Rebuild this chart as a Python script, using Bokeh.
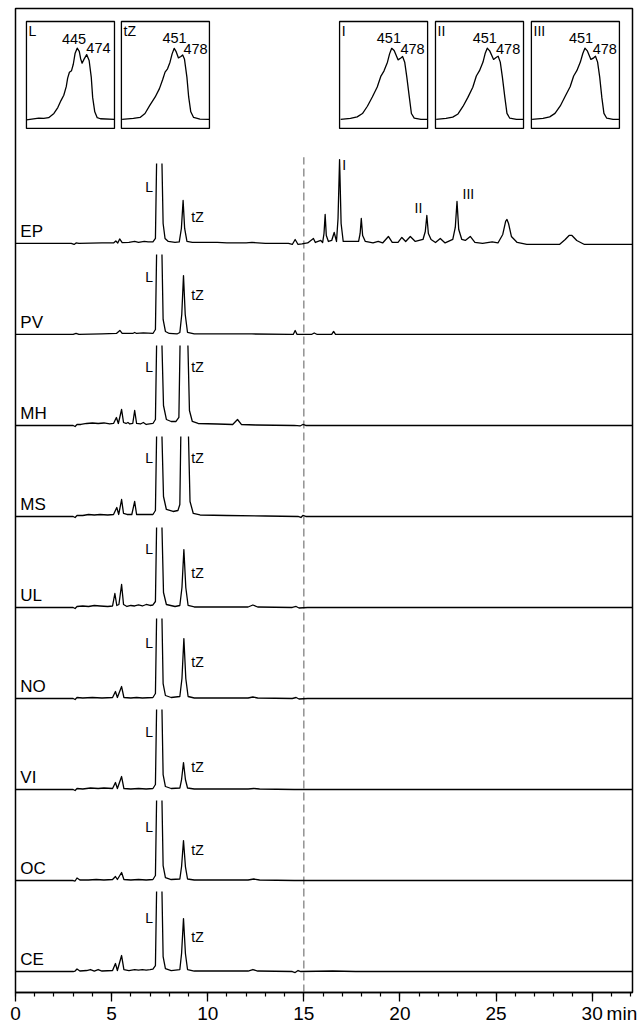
import math
from bokeh.plotting import figure
from bokeh.models import Range1d, SingleIntervalTicker, FixedTicker, LinearAxis
from bokeh.core.properties import value
from bokeh.embed import file_html
from bokeh.resources import INLINE

NAN = float("nan")

# ---------------- DATA ----------------
samples = ["EP", "PV", "MH", "MS", "UL", "NO", "VI", "OC", "CE"]

# chromatogram vertices (time in min, signal in arbitrary units); NaN = off-scale apex
EP = [(0, 0), (2.9, 0), (3.05, -1), (3.15, 0.5), (3.3, 0), (4.5, 0.5), (5.1, 0.5), (5.22, 2.5), (5.32, 0.5),
      (5.42, 4.5), (5.55, 0.8), (5.9, 1), (6.2, 2), (6.4, 1), (6.7, 2), (6.9, 1.5), (7.15, 1.5), (7.28, 5),
      (7.34, 80), (7.5, NAN), (7.62, 80), (7.68, 20), (7.78, 5), (7.95, 2), (8.3, 1), (8.52, 1.5), (8.63, 15),
      (8.72, 43), (8.8, 15), (8.92, 2), (9.2, 1), (10.5, 1), (11.0, 0.5), (12.0, 0.5), (12.3, 1), (13, 0),
      (14.2, 0), (14.4, -1), (14.55, 4), (14.7, -1), (14.9, -0.5), (15.2, 0.5), (15.5, 5), (15.6, 1),
      (15.88, 3), (15.98, 1), (16.05, 10), (16.11, 29), (16.17, 8), (16.28, 2), (16.45, 3), (16.58, 11),
      (16.7, 2), (16.78, 25), (16.86, 84), (16.94, 20), (17.05, 2), (17.6, 2), (17.85, 2), (17.93, 10),
      (17.99, 25), (18.06, 8), (18.2, 2), (18.6, 0.5), (18.87, 2), (19.1, 0.5), (19.4, 7), (19.6, 1),
      (19.9, 1), (20.1, 6), (20.3, 2), (20.54, 7), (20.8, 2), (21.2, 4), (21.32, 12), (21.4, 28),
      (21.48, 10), (21.62, 4), (21.85, 1), (22.1, 5), (22.35, 0.5), (22.75, 4), (22.88, 16), (22.97, 42),
      (23.06, 14), (23.22, 4), (23.4, 3), (23.66, 7), (23.9, 1), (24.3, 0), (24.8, 1.5), (25.1, 0.5),
      (25.35, 9), (25.5, 22), (25.57, 24), (25.65, 20), (25.8, 7), (26.1, 1), (26.6, -1), (28.3, -1),
      (28.6, 4), (28.8, 8), (28.95, 8), (29.2, 3), (29.6, -1), (32.1, -1)]
PV = [(0, 0), (3.0, 0), (3.15, 1), (3.3, 0), (4.5, 0.5), (5.25, 1), (5.43, 4), (5.55, 1), (6.1, 1), (6.2, 2),
      (6.3, 1), (6.65, 1.5), (7.15, 1), (7.28, 5), (7.34, 80), (7.5, NAN), (7.62, 80), (7.68, 15), (7.8, 3),
      (8.0, 1), (8.4, 0.5), (8.55, 2), (8.65, 20), (8.74, 59), (8.83, 20), (8.95, 2), (9.3, 0.5), (12.3, 0.5),
      (14.3, 0), (14.45, 0), (14.55, 4), (14.65, 0), (15.4, 0), (15.54, 1.5), (15.7, 0), (16.45, 0),
      (16.55, 3), (16.65, 0), (32.1, 0)]
MH = [(0, 0), (3.0, 0), (3.1, -1), (3.2, 1), (3.4, 1), (3.7, 2), (4.0, 2.5), (4.3, 2), (4.6, 2.5), (4.9, 1.5),
      (5.1, 2), (5.25, 8), (5.35, 2), (5.52, 16), (5.62, 3), (5.75, 2), (5.85, 3), (5.95, 1.5), (6.1, 2),
      (6.2, 15), (6.3, 2), (6.5, 1.5), (6.65, 3), (6.8, 1), (7.15, 2), (7.28, 6), (7.34, 80), (7.5, NAN),
      (7.62, 80), (7.7, 20), (7.85, 6), (8.1, 4), (8.35, 4), (8.5, 8), (8.56, 80), (8.75, NAN), (8.97, 80),
      (9.05, 15), (9.2, 4), (9.5, 2), (10.5, 1.5), (11.3, 1), (11.55, 6), (11.75, 1), (12.5, 0.5), (14.5, 0),
      (14.8, -0.5), (14.95, 1), (15.1, 0), (32.1, 0)]
MS = [(0, 0), (3.0, 0), (3.1, -1), (3.2, 1), (3.5, 1), (3.8, 2), (4.1, 1.5), (4.4, 2), (4.8, 1.5), (5.1, 2),
      (5.27, 9), (5.37, 2), (5.52, 17), (5.62, 3), (5.8, 2), (6.05, 2), (6.2, 15), (6.3, 2), (6.6, 2),
      (7.15, 2), (7.28, 6), (7.34, 80), (7.5, NAN), (7.62, 80), (7.7, 20), (7.85, 7), (8.2, 5), (8.45, 6),
      (8.55, 12), (8.6, 80), (8.8, NAN), (9.0, 80), (9.08, 15), (9.25, 3), (9.6, 1.5), (11, 1), (13, 0.5),
      (14.7, 0), (14.85, -1), (14.95, 1), (15.1, 0), (32.1, 0)]
UL = [(0, 0), (3.0, 0), (3.1, -1), (3.2, 1), (3.5, 1.5), (3.8, 1), (4.1, 2), (4.4, 1.5), (4.8, 1), (5.05, 1.5),
      (5.17, 14), (5.27, 2), (5.38, 3), (5.52, 23), (5.62, 3), (5.8, 1), (6.0, 2), (6.2, 1.5), (6.4, 2.5),
      (6.6, 1.5), (6.8, 3), (7.0, 2), (7.15, 2.5), (7.28, 6), (7.34, 80), (7.5, NAN), (7.62, 80), (7.7, 15),
      (7.85, 3), (8.3, 1), (8.55, 2), (8.66, 20), (8.76, 58), (8.86, 20), (8.98, 2), (9.3, 0.5), (12.1, 0.5),
      (12.35, 2.5), (12.6, 0.5), (14.4, 0), (14.6, 1), (14.75, -0.5), (15.2, 0), (32.1, 0)]
NO = [(0, 0), (3.0, 0), (3.1, -1), (3.2, 1), (3.5, 0.5), (4.0, 1), (4.5, 0.5), (5.05, 1), (5.2, 7), (5.3, 1),
      (5.52, 12), (5.64, 1), (6.0, 0.5), (6.3, 1), (6.6, 0.5), (7.15, 1), (7.28, 5), (7.34, 80), (7.5, NAN),
      (7.62, 80), (7.68, 15), (7.8, 3), (8.1, 1), (8.55, 2), (8.66, 20), (8.76, 60), (8.86, 20), (8.98, 2),
      (9.3, 0.5), (12.1, 0.5), (12.35, 1.5), (12.6, 0.5), (14.4, 0), (14.6, 1), (14.75, -0.5), (15.2, 0),
      (32.1, 0)]
VI = [(0, 0), (3.0, 0), (3.1, -1), (3.2, 1), (3.5, 0.5), (3.9, 1.5), (4.3, 1), (4.6, 1.5), (5.05, 1), (5.2, 7),
      (5.3, 1), (5.52, 13), (5.64, 1), (6.0, 0.5), (6.4, 1), (6.8, 0.5), (7.15, 1), (7.28, 5), (7.34, 80),
      (7.5, NAN), (7.62, 80), (7.68, 15), (7.8, 3), (8.1, 1), (8.55, 1.5), (8.64, 10), (8.74, 27), (8.84, 10),
      (8.95, 1.5), (9.3, 0.5), (12.1, 0.5), (12.4, 1), (12.7, 0.5), (14.5, 0), (32.1, 0)]
OC = [(0, 0), (3.0, 0), (3.1, -0.5), (3.2, 2.5), (3.35, 0.5), (3.8, 0.5), (4.2, 1), (4.6, 0.5), (5.05, 1),
      (5.2, 4), (5.3, 1), (5.52, 8), (5.64, 1), (6.0, 0.5), (6.4, 1), (6.8, 0.5), (7.15, 1), (7.28, 5),
      (7.34, 80), (7.5, NAN), (7.62, 80), (7.68, 15), (7.8, 3), (8.1, 1), (8.55, 1.5), (8.64, 14), (8.74, 40),
      (8.84, 14), (8.95, 1.5), (9.3, 0.5), (12.1, 0.5), (12.4, 1.5), (12.7, 0.5), (14.5, 0), (32.1, 0)]
CE = [(0, 0), (3.0, 0), (3.1, 0.5), (3.2, 2.5), (3.35, 0.5), (3.7, 1), (3.9, 2), (4.1, 0.5), (4.3, 2), (4.5, 0.5),
      (5.05, 1), (5.2, 8), (5.3, 1), (5.52, 16), (5.64, 2), (5.9, 1), (6.2, 2), (6.4, 1.5), (6.6, 2), (6.8, 1.5),
      (7.0, 2), (7.15, 2.5), (7.28, 6), (7.34, 80), (7.5, NAN), (7.62, 80), (7.68, 15), (7.8, 3), (8.1, 1),
      (8.55, 2), (8.64, 18), (8.74, 53), (8.84, 18), (8.95, 2), (9.3, 0.5), (12.1, 0.5), (12.35, 2),
      (12.6, 0.5), (14.4, 0), (14.55, -1), (14.7, 1), (14.85, 0), (16.5, 0.5), (17.7, 0), (32.1, 0)]
traces = [EP, PV, MH, MS, UL, NO, VI, OC, CE]

peak_labels_EP = ["I", "II", "III"]
cutoff_time = 15
time_ticks = [0, 5, 10, 15, 20, 25, 30]
time_unit = "min"

# UV-Vis spectra of insets (wavelength nm, relative absorbance)
spec_names = ["L", "tZ", "I", "II", "III"]
L_nm = [300, 335, 349, 363, 378, 389, 398, 406, 413, 417, 422, 428, 433, 438, 444, 450, 454, 458, 464, 471,
        478, 484, 488, 494, 501, 510, 550]
L_abs = [0.08, 0.095, 0.093, 0.10, 0.14, 0.195, 0.26, 0.31, 0.39, 0.47, 0.525, 0.54, 0.60, 0.70, 0.75, 0.72,
         0.65, 0.61, 0.65, 0.69, 0.635, 0.48, 0.29, 0.155, 0.10, 0.09, 0.085]
tZ_nm = [302, 334, 353, 367, 381, 396, 408, 417, 424, 431, 438, 444, 450, 455, 462, 469, 474, 479, 486, 491,
         497, 505, 523, 550]
tZ_abs = [0.084, 0.093, 0.102, 0.139, 0.217, 0.294, 0.372, 0.455, 0.526, 0.557, 0.619, 0.697, 0.749, 0.721,
          0.659, 0.672, 0.687, 0.65, 0.48, 0.294, 0.155, 0.102, 0.087, 0.084]
I_nm = [303, 331, 350, 365, 379, 393, 407, 417, 426, 436, 442, 448, 455, 466, 474, 479, 485, 491, 498, 504,
        512, 531, 550]
I_abs = [0.084, 0.093, 0.108, 0.139, 0.207, 0.294, 0.387, 0.486, 0.536, 0.619, 0.697, 0.749, 0.728, 0.641,
         0.659, 0.672, 0.619, 0.48, 0.294, 0.139, 0.096, 0.084, 0.084]
II_nm = [302, 330, 349, 364, 378, 392, 406, 416, 425, 435, 441, 447, 454, 465, 473, 478, 484, 490, 497, 503,
         511, 530, 550]
II_abs = [0.084, 0.093, 0.105, 0.135, 0.205, 0.29, 0.385, 0.49, 0.54, 0.62, 0.70, 0.75, 0.725, 0.645, 0.665,
          0.675, 0.62, 0.48, 0.29, 0.14, 0.095, 0.084, 0.084]
III_nm = [302, 333, 352, 367, 382, 396, 410, 420, 429, 439, 446, 452, 459, 469, 477, 482, 488, 494, 500, 506,
          514, 532, 550]
III_abs = [0.084, 0.093, 0.108, 0.14, 0.21, 0.30, 0.39, 0.49, 0.54, 0.62, 0.70, 0.75, 0.725, 0.645, 0.66,
           0.675, 0.62, 0.48, 0.29, 0.14, 0.095, 0.084, 0.084]
spectra = [(L_nm, L_abs), (tZ_nm, tZ_abs), (I_nm, I_abs), (II_nm, II_abs), (III_nm, III_abs)]
max1_labels = ["445", "451", "451", "451", "451"]
max2_labels = ["474", "478", "478", "478", "478"]

# ---------------- LAYOUT ----------------
XMAX = 32.1
YMAX = 985.0
FONT = value("Liberation Sans")
offsets = [21 + 91.1 * (len(samples) - 1 - i) for i in range(len(samples))]
L_label_y = [57, 58, 59, 59, 59, 56, 58, 54, 54]
tZ_label_y = [26, 40, 59, 59, 35, 37, 23, 31, 35]
EP_roman_x = [17.0, 20.96, 23.56]
EP_roman_y = [79, 35, 50]
EP_roman_align = ["left", "center", "center"]
dash_top = 836
unit_pos = 31.55

inset_left = [0.57, 5.51, 16.86, 21.85, 26.84]   # in minutes (main axis units)
inset_w = 4.58
inset_bottom, inset_top = 865.0, 972.0
NM0, NM1 = 300.0, 550.0
max1_pos = [(435, 0.84), (451, 0.85), (440, 0.85), (440, 0.85), (441, 0.85)]
max2_pos = [(470, 0.75), (476, 0.74), (473, 0.74), (472, 0.74), (474, 0.74)]

p = figure(width=641, height=1026, x_range=Range1d(0, XMAX), y_range=Range1d(0, YMAX),
           output_backend="svg", toolbar_location=None, y_axis_location=None,
           min_border_left=15, min_border_right=9, min_border_top=8, min_border_bottom=33)
p.grid.visible = False
p.outline_line_color = "black"
p.outline_line_width = 1.5
p.background_fill_color = "white"
p.border_fill_color = "white"

# axis with tick marks only
ax = p.xaxis[0]
ax.ticker = SingleIntervalTicker(interval=5, num_minor_ticks=5)
ax.axis_line_width = 1.5
ax.axis_line_color = "black"
ax.major_tick_line_color = "black"
ax.minor_tick_line_color = "black"
ax.major_tick_line_width = 1.3
ax.minor_tick_line_width = 1.2
ax.major_tick_in = 0
ax.major_tick_out = 9
ax.minor_tick_in = 0
ax.minor_tick_out = 4
ax.major_label_standoff = 0
ax.major_label_text_font_size = "0px"
ax.major_label_text_color = None

# axis carrying the labels (numbers + unit)
lab_ax = LinearAxis(ticker=FixedTicker(ticks=time_ticks + [unit_pos]),
                    major_label_overrides={unit_pos: time_unit})
lab_ax.axis_line_color = None
lab_ax.major_tick_line_color = None
lab_ax.minor_tick_line_color = None
lab_ax.major_tick_in = 0
lab_ax.major_tick_out = 0
lab_ax.major_label_standoff = 1
lab_ax.major_label_text_font = "Liberation Sans"
lab_ax.major_label_text_font_size = "19px"
lab_ax.major_label_text_color = "black"
p.add_layout(lab_ax, "below")

# dashed cutoff line
p.segment(x0=[cutoff_time], y0=[0], x1=[cutoff_time], y1=[dash_top], line_color="#8a8a8a",
          line_width=1.4, line_dash="8 4")

# chromatograms
for i, tr in enumerate(traces):
    t = [a for a, b in tr]
    y = [offsets[i] + b for a, b in tr]
    p.line(t, y, line_color="black", line_width=1.3, line_join="round")

# sample names
p.text(x=[0.25] * len(samples), y=[o + 12 for o in offsets], text=samples, text_font=FONT,
       text_font_size="17px", text_baseline="middle", text_align="left", text_color="black")
# L / tZ labels
p.text(x=[7.15] * len(samples), y=[o + d for o, d in zip(offsets, L_label_y)], text=["L"] * len(samples),
       text_font=FONT, text_font_size="14px", text_baseline="middle", text_align="right", text_color="black")
p.text(x=[9.15] * len(samples), y=[o + d for o, d in zip(offsets, tZ_label_y)], text=["tZ"] * len(samples),
       text_font=FONT, text_font_size="14px", text_baseline="middle", text_align="left", text_color="black")
for lab, xx, yy, al in zip(peak_labels_EP, EP_roman_x, EP_roman_y, EP_roman_align):
    p.text(x=[xx], y=[offsets[0] + yy], text=[lab], text_font=FONT, text_font_size="14px",
           text_baseline="middle", text_align=al, text_color="black")

# insets on their own ranges
ky = 1.0 / (inset_top - inset_bottom)
p.extra_y_ranges = {"abs": Range1d(-inset_bottom * ky, (YMAX - inset_bottom) * ky)}
xr = {}
for i, name in enumerate(spec_names):
    k = (NM1 - NM0) / inset_w
    xr["nm%d" % i] = Range1d(NM0 - inset_left[i] * k, NM0 + (XMAX - inset_left[i]) * k)
p.extra_x_ranges = xr
for i, name in enumerate(spec_names):
    rn = "nm%d" % i
    nm, ab = spectra[i]
    p.quad(left=[NM0], right=[NM1], bottom=[0], top=[1], x_range_name=rn, y_range_name="abs",
           fill_color=None, line_color="black", line_width=1.3)
    p.line(nm, ab, x_range_name=rn, y_range_name="abs", line_color="black", line_width=1.3, line_join="round")
    p.text(x=[NM0 + 6], y=[0.985], text=[name], x_range_name=rn, y_range_name="abs", text_font=FONT,
           text_font_size="14px", text_baseline="top", text_align="left", text_color="black")
    p.text(x=[max1_pos[i][0]], y=[max1_pos[i][1]], text=[max1_labels[i]], x_range_name=rn, y_range_name="abs",
           text_font=FONT, text_font_size="14.5px", text_baseline="middle", text_align="center", text_color="black")
    p.text(x=[max2_pos[i][0]], y=[max2_pos[i][1]], text=[max2_labels[i]], x_range_name=rn, y_range_name="abs",
           text_font=FONT, text_font_size="14.5px", text_baseline="middle", text_align="left", text_color="black")

open("out.html", "w").write(file_html(p, INLINE))
